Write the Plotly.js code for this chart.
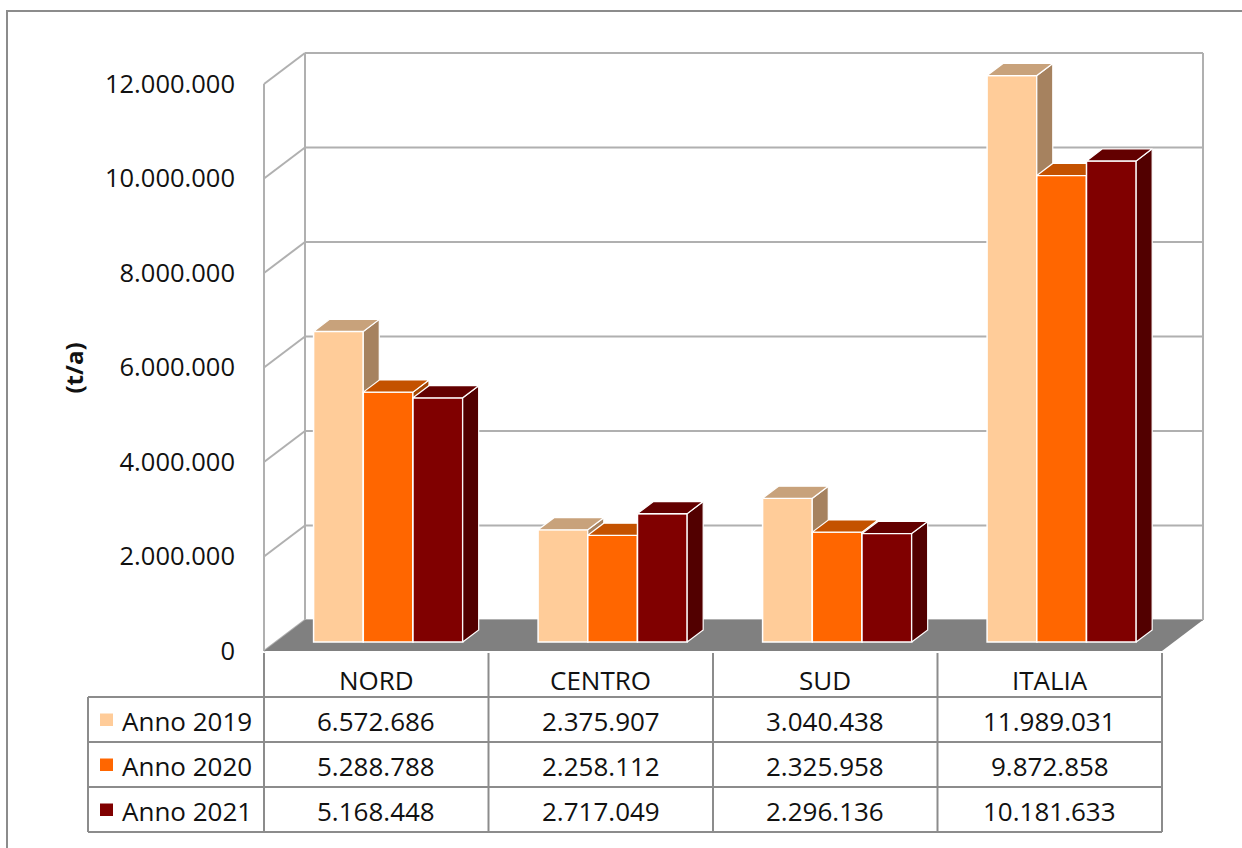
<!DOCTYPE html>
<html>
<head>
<meta charset="utf-8">
<script src="https://cdn.plot.ly/plotly-3.0.1.min.js"></script>
<style>
  html, body { margin: 0; padding: 0; background: #ffffff; }
  #chart { width: 1242px; height: 848px; }
</style>
</head>
<body>
<div id="chart"></div>
<script>
// ---------------- DATA ----------------
const categories = ['NORD', 'CENTRO', 'SUD', 'ITALIA'];
const seriesNames = ['Anno 2019', 'Anno 2020', 'Anno 2021'];
const anno2019 = [6572686, 2375907, 3040438, 11989031];
const anno2020 = [5288788, 2258112, 2325958, 9872858];
const anno2021 = [5168448, 2717049, 2296136, 10181633];
const yTickValues = [0, 2000000, 4000000, 6000000, 8000000, 10000000, 12000000];
const yAxisTitle = '(t/a)';

const seriesValues = [anno2019, anno2020, anno2021];

// ---------------- STYLE / GEOMETRY ----------------
const FONT = '"Open Sans", "Noto Sans", sans-serif';
const frontColors = ['#FFCC99', '#FF6600', '#800000'];
const topColors   = ['#C8A27B', '#C45200', '#630000'];
const sideColors  = ['#A6825F', '#A34400', '#520000'];
const gridColor = '#B0B0B0';
const tableColor = '#8C8C8C';

const W = 1242, H = 848;
const catPx = 224.5;          // pixels per category
const pxPerMillion = 47.25;   // pixels per 1.000.000
const frontLeftPx = 264;      // x pixel of front-left corner (category 0)
const zeroPx = 651;           // y pixel of front zero
const xMin = -6 / catPx;
const mL = Math.round(frontLeftPx + xMin * catPx);
const mR = 27, mT = 40, mB = 152;
const plotW = W - mL - mR, plotH = H - mT - mB;
const xMax = xMin + plotW / catPx;
const yMax = (zeroPx - mT) / pxPerMillion * 1e6;
const yMin = -((H - mB) - zeroPx) / pxPerMillion * 1e6;

// depth vector (full floor depth) in data units
const DX = 41 / catPx;
const DY = 31 / pxPerMillion * 1e6;
const f0 = 0.29, f1 = 0.68;          // bar depth span (fraction of floor depth)
const barW = 49.7 / catPx;
const bdx = (f1 - f0) * DX, bdy = (f1 - f0) * DY;
const nCat = categories.length;
const topTick = yTickValues[yTickValues.length - 1];

function barOffset(s) { return -1.5 * barW + s * barW + f0 * DX; }

// pixel -> paper helpers (for the data table under the plot)
function PX(px) { return (px - mL) / plotW; }
function PY(py) { return ((H - mB) - py) / plotH; }
function XP(xd) { return (xd - xMin) / (xMax - xMin); }

function fmt(v) { return String(v).replace(/\B(?=(\d{3})+(?!\d))/g, '.'); }

// ---------------- TRACES ----------------
const traces = [];
seriesValues.forEach((vals, s) => {
  const xa = s === 0 ? 'x' : 'x' + (s + 1);
  const ya = s === 0 ? 'y' : 'y' + (s + 1);
  const base = f0 * DY;
  traces.push({
    type: 'bar', name: seriesNames[s],
    x: categories.map((c, k) => k + 0.5),
    y: vals,
    base: vals.map(() => base),
    width: barW, offset: barOffset(s),
    marker: { color: frontColors[s], line: { color: '#FFFFFF', width: 1.5 } },
    xaxis: xa, yaxis: ya, hoverinfo: 'skip', showlegend: false
  });
  const top = { x: [], y: [] }, side = { x: [], y: [] };
  vals.forEach((v, k) => {
    const L = k + 0.5 + barOffset(s), R = L + barW, t = base + v;
    top.x.push(L, R, R + bdx, L + bdx, L, null);
    top.y.push(t, t, t + bdy, t + bdy, t, null);
    side.x.push(R, R, R + bdx, R + bdx, R, null);
    side.y.push(base, t, t + bdy, base + bdy, base, null);
  });
  [[side, sideColors[s]], [top, topColors[s]]].forEach(([p, col]) => {
    traces.push({
      type: 'scatter', mode: 'lines', x: p.x, y: p.y,
      fill: 'toself', fillcolor: col,
      line: { color: '#FFFFFF', width: 1.2 },
      xaxis: xa, yaxis: ya, hoverinfo: 'skip', showlegend: false
    });
  });
});

// ---------------- SHAPES ----------------
const shapes = [];
// back wall gridlines + left wall diagonals
yTickValues.forEach(v => {
  shapes.push({ type: 'line', xref: 'x', yref: 'y', layer: 'below',
    x0: DX, x1: nCat + DX, y0: v + DY, y1: v + DY,
    line: { color: gridColor, width: 2 } });
  shapes.push({ type: 'line', xref: 'x', yref: 'y', layer: 'below',
    x0: 0, x1: DX, y0: v, y1: v + DY,
    line: { color: gridColor, width: 2 } });
});
// wall edges
shapes.push({ type: 'line', xref: 'x', yref: 'y', layer: 'below',
  x0: 0, x1: 0, y0: 0, y1: topTick, line: { color: gridColor, width: 2 } });
shapes.push({ type: 'line', xref: 'x', yref: 'y', layer: 'below',
  x0: DX, x1: DX, y0: DY, y1: topTick + DY, line: { color: gridColor, width: 2 } });
shapes.push({ type: 'line', xref: 'x', yref: 'y', layer: 'below',
  x0: nCat + DX, x1: nCat + DX, y0: DY, y1: topTick + DY, line: { color: gridColor, width: 2 } });
// floor
shapes.push({ type: 'path', xref: 'x', yref: 'y', layer: 'below',
  path: `M ${0} ${0} L ${nCat} ${0} L ${nCat + DX} ${DY} L ${DX} ${DY} Z`,
  fillcolor: '#808080', line: { width: 0 } });

// ---- data table ----
const rowLines = [697, 742, 787, 832];
const tableLeftPx = 88;
const headTopPx = 653;
rowLines.forEach(py => {
  shapes.push({ type: 'line', xref: 'paper', yref: 'paper',
    x0: PX(tableLeftPx), x1: XP(nCat), y0: PY(py), y1: PY(py),
    line: { color: tableColor, width: 2 } });
});
shapes.push({ type: 'line', xref: 'paper', yref: 'paper',
  x0: PX(tableLeftPx), x1: PX(tableLeftPx), y0: PY(rowLines[0]), y1: PY(rowLines[3]),
  line: { color: tableColor, width: 2 } });
for (let k = 0; k <= nCat; k++) {
  shapes.push({ type: 'line', xref: 'paper', yref: 'paper',
    x0: XP(k), x1: XP(k), y0: PY(headTopPx), y1: PY(rowLines[3]),
    line: { color: tableColor, width: 2 } });
}
// legend keys
const rowCenters = [719.5, 764.5, 809.5];
seriesNames.forEach((n, s) => {
  shapes.push({ type: 'rect', xref: 'paper', yref: 'paper',
    x0: PX(100), x1: PX(113), y0: PY(rowCenters[s] - 6), y1: PY(rowCenters[s] + 6.5),
    fillcolor: frontColors[s], line: { width: 0 } });
});
// outer frame
shapes.push({ type: 'rect', xref: 'paper', yref: 'paper',
  x0: PX(7), x1: PX(W + 20), y0: PY(11), y1: PY(H + 20),
  fillcolor: 'rgba(0,0,0,0)', line: { color: '#8C8C8C', width: 2 } });

// ---------------- ANNOTATIONS ----------------
const annotations = [];
const tfont = { family: FONT, size: 26, color: '#111111' };
categories.forEach((c, k) => {
  annotations.push({ xref: 'paper', yref: 'paper', x: XP(k + 0.5), y: PY(680),
    text: c, showarrow: false, xanchor: 'center', yanchor: 'middle', font: tfont });
  seriesValues.forEach((vals, s) => {
    annotations.push({ xref: 'paper', yref: 'paper', x: XP(k + 0.5), y: PY(rowCenters[s] + 1),
      text: fmt(vals[k]), showarrow: false, xanchor: 'center', yanchor: 'middle', font: tfont });
  });
});
seriesNames.forEach((n, s) => {
  annotations.push({ xref: 'paper', yref: 'paper', x: PX(120), y: PY(rowCenters[s] + 1),
    text: n, showarrow: false, xanchor: 'left', yanchor: 'middle', font: tfont });
});

// ---------------- LAYOUT ----------------
const xHidden = { range: [xMin, xMax], autorange: false, visible: false, fixedrange: true };
const yHidden = { range: [yMin, yMax], autorange: false, visible: false, fixedrange: true };

const layout = {
  width: W, height: H,
  margin: { l: mL, r: mR, t: mT, b: mB, pad: 0 },
  paper_bgcolor: '#FFFFFF', plot_bgcolor: 'rgba(0,0,0,0)',
  separators: ',.',
  showlegend: false,
  font: { family: FONT, color: '#111111' },
  xaxis: Object.assign({}, xHidden),
  yaxis: {
    range: [yMin, yMax], autorange: false, fixedrange: true,
    tickmode: 'array', tickvals: yTickValues, tickformat: ',d',
    showgrid: false, zeroline: false, showline: false, ticks: '',
    ticklabelstandoff: 22,
    tickfont: { family: FONT, size: 25.5, color: '#111111' },
    title: { text: yAxisTitle, standoff: 14,
      font: { family: FONT, size: 24, color: '#111111', weight: 700 } }
  },
  xaxis2: Object.assign({ overlaying: 'x' }, xHidden),
  yaxis2: Object.assign({ overlaying: 'y' }, yHidden),
  xaxis3: Object.assign({ overlaying: 'x' }, xHidden),
  yaxis3: Object.assign({ overlaying: 'y' }, yHidden),
  shapes: shapes,
  annotations: annotations
};

Plotly.newPlot('chart', traces, layout, { staticPlot: true, displayModeBar: false });
</script>
</body>
</html>
